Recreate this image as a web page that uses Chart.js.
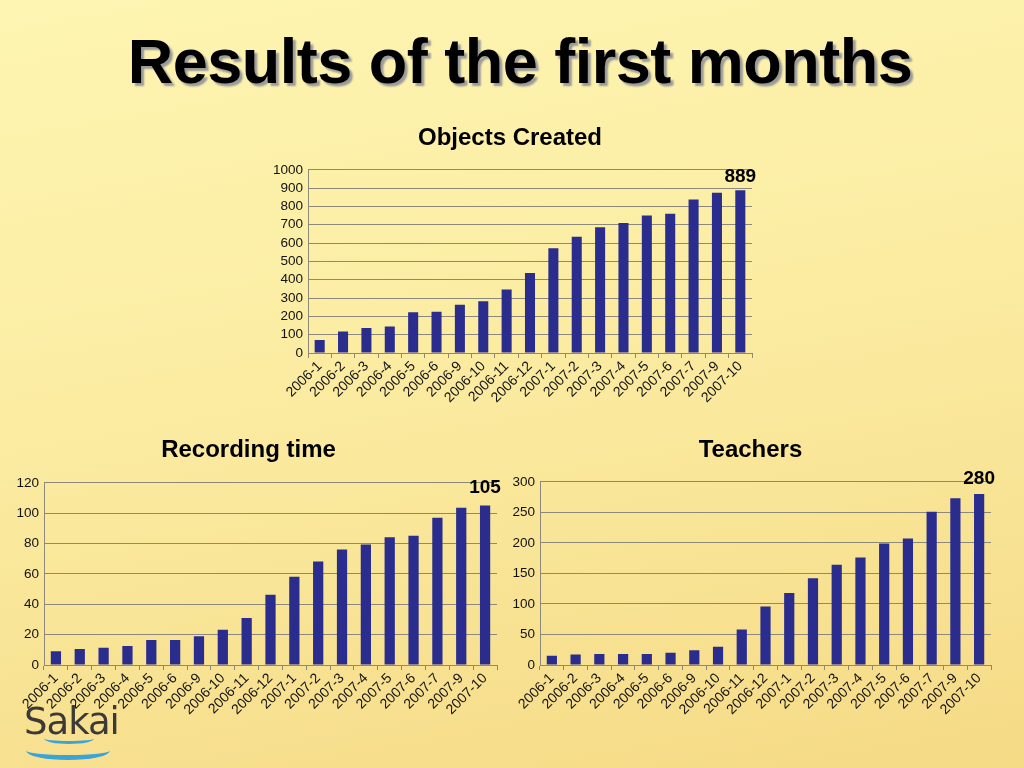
<!DOCTYPE html>
<html>
<head>
<meta charset="utf-8">
<script src="https://cdn.jsdelivr.net/npm/chart.js@4"></script>
<style>
  html, body { margin: 0; padding: 0; }
  body {
    width: 1024px; height: 768px; overflow: hidden; position: relative;
    background: linear-gradient(170deg, #fef5b2 0%, #fbeca2 45%, #f5da86 100%);
    font-family: "Liberation Sans", Arial, sans-serif;
  }
  h1 {
    position: absolute; left: 0; top: 25px; width: 1040px; margin: 0;
    text-align: center; font-size: 63px; font-weight: bold; color: #000;
    letter-spacing: -0.5px;
    text-shadow: 3px 3px 2px #9a9a9a;
  }
  .box { position: absolute; }
  .logo {
    position: absolute; left: 24px; top: 700px; font-size: 37px; color: #3c3a36;
    font-family: "DejaVu Sans", sans-serif; letter-spacing: -1px;
  }
  .ring {
    position: absolute; left: 26px; width: 84px; height: 14px; border-radius: 50%;
    border-bottom: 5px solid #3aa3d8;
  }
</style>
</head>
<body>
<h1>Results of the first months</h1>
<div class="box" style="left:268px; top:124px; width:494px; height:296px;"><canvas id="myChart1"></canvas></div>
<div class="box" style="left:0px; top:436px; width:505px; height:304px;"><canvas id="myChart2"></canvas></div>
<div class="box" style="left:510px; top:436px; width:490px; height:304px;"><canvas id="myChart3"></canvas></div>
<div class="logo">Sakai</div>
<div class="ring" style="top:741px;"></div>
<div class="ring" style="top:733px; left:44px; width:50px; height:8px; border-bottom-width:3px;"></div>
<script>
var months = ["2006-1", "2006-2", "2006-3", "2006-4", "2006-5", "2006-6", "2006-9", "2006-10", "2006-11", "2006-12",
  "2007-1", "2007-2", "2007-3", "2007-4", "2007-5", "2007-6", "2007-7", "2007-9", "2007-10"];
var objectsCreated = [71, 118, 136, 145, 223, 225, 263, 283, 347, 437, 572, 635, 686, 710, 750, 760, 838, 875, 889];
var recordingTime = [9, 10.5, 11.4, 12.5, 16.4, 16.4, 19, 23.2, 30.9, 46.2, 58.2, 68.1, 76, 79.3, 84.1, 85.2, 97, 103.6, 105];
var teachers = [15, 17, 18, 18, 18, 20, 24, 30, 58, 96, 118, 142, 164, 176, 199, 207, 251, 273, 280];

Chart.defaults.font.family = '"Liberation Sans", Arial, sans-serif';
Chart.defaults.color = '#111';

var barColor = '#2b2d8e';
var gridColor = '#8c887a';

// writes the last value above the last bar
var lastLabel = {
  id: 'lastLabel',
  afterDatasetsDraw: function(chart) {
    var meta = chart.getDatasetMeta(0);
    var data = chart.data.datasets[0].data;
    var bar = meta.data[meta.data.length - 1];
    var ctx = chart.ctx;
    ctx.save();
    ctx.font = 'bold 19px "Liberation Sans", Arial, sans-serif';
    ctx.fillStyle = '#000';
    ctx.textAlign = 'center';
    ctx.textBaseline = 'alphabetic';
    ctx.fillText(Math.round(data[data.length - 1]), bar.x, bar.y - chart.options.plugins.lastLabel.gap);
    ctx.restore();
  }
};

function makeChart(id, title, values, max, step, yWidth, xHeight, titleGap, gap, padRight) {
  var ctx = document.getElementById(id).getContext('2d');
  return new Chart(ctx, {
    type: 'bar',
    plugins: [lastLabel],
    data: {
      labels: months,
      datasets: [{
        label: title,
        data: values,
        backgroundColor: barColor,
        borderWidth: 0,
        barPercentage: 0.43,
        categoryPercentage: 1
      }]
    },
    options: {
      responsive: true,
      maintainAspectRatio: false,
      animation: false,
      layout: { padding: { right: padRight, left: 0, top: 0, bottom: 0 } },
      plugins: {
        legend: { display: false },
        tooltip: { enabled: false },
        title: {
          display: true,
          text: title,
          color: '#000',
          font: { size: 24, weight: 'bold' },
          padding: { top: 0, bottom: titleGap }
        },
        lastLabel: { gap: gap }
      },
      scales: {
        x: {
          offset: true,
          grid: { display: true, offset: true, drawOnChartArea: false, color: gridColor, tickLength: 5 },
          border: { color: gridColor },
          ticks: { autoSkip: false, minRotation: 45, maxRotation: 45, font: { size: 14 }, padding: 0 },
          afterFit: function(scale) { scale.height = xHeight; }
        },
        y: {
          min: 0,
          max: max,
          ticks: {
            autoSkip: false, stepSize: step, font: { size: 13.5 }, padding: 5,
            callback: function(value) { return String(value); }
          },
          grid: { color: gridColor, drawTicks: false },
          border: { color: gridColor },
          afterFit: function(scale) { scale.width = yWidth; }
        }
      }
    }
  });
}

var myChart1 = makeChart('myChart1', 'Objects Created', objectsCreated, 1000, 100, 40, 67, 17, 8, 10);
var myChart2 = makeChart('myChart2', 'Recording time', recordingTime, 120, 20, 44, 75, 18, 13, 8);
var myChart3 = makeChart('myChart3', 'Teachers', teachers, 300, 50, 30, 75, 17, 10, 9);
</script>
</body>
</html>
